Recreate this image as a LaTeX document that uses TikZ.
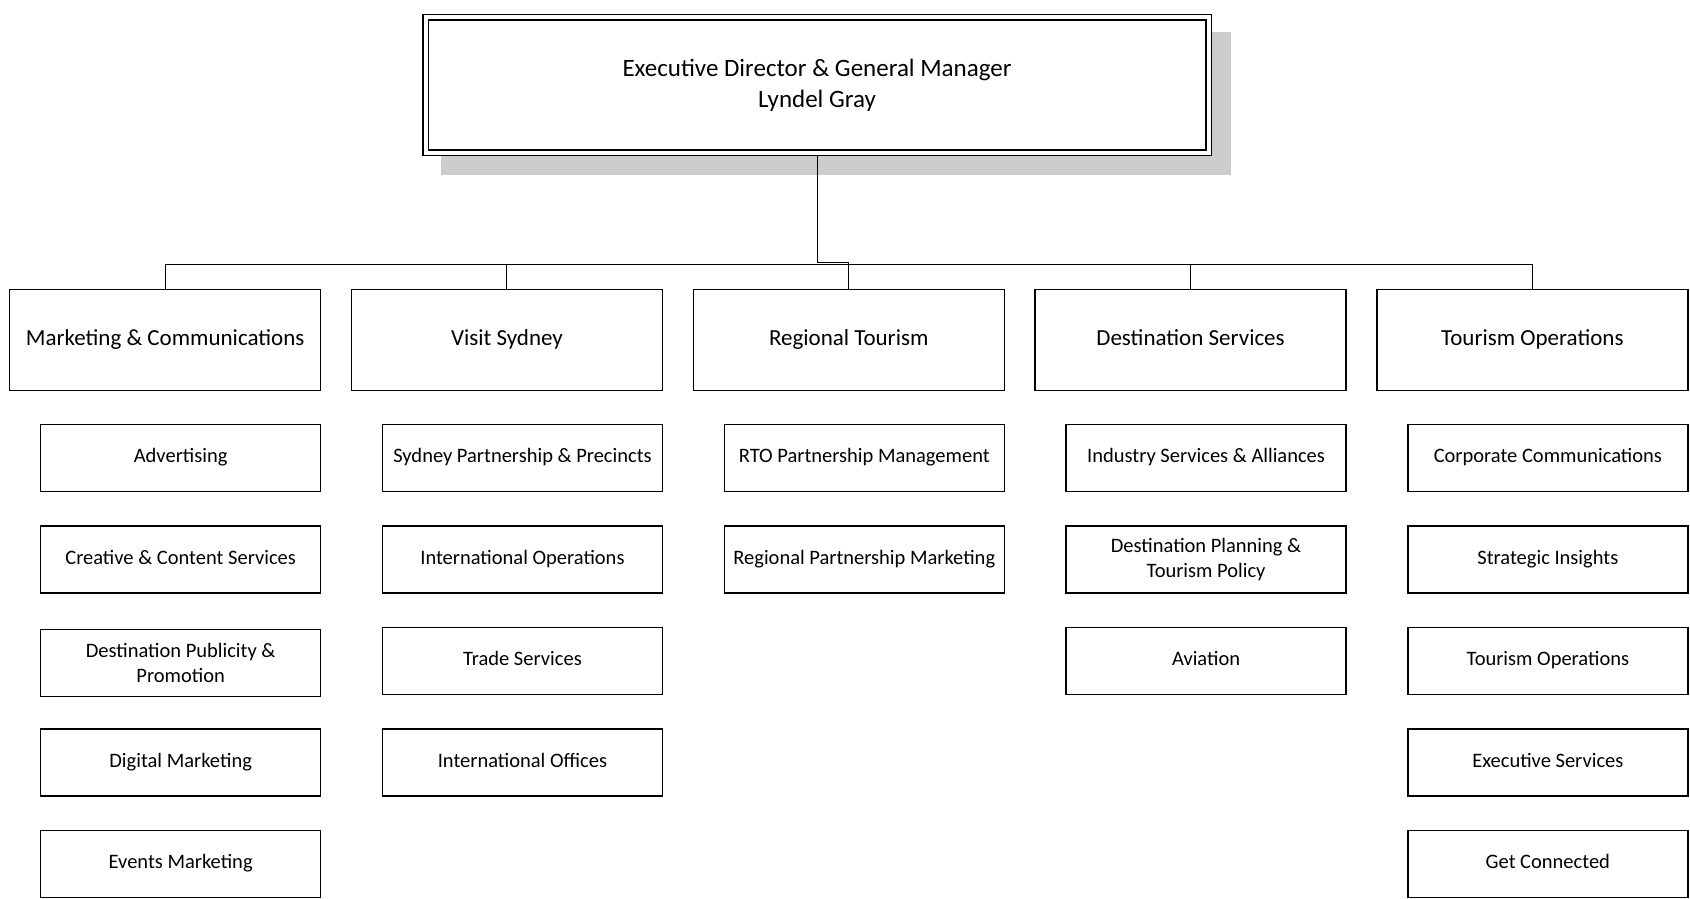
\documentclass[tikz,border=0pt]{standalone}
\usepackage{fontspec}
\setmainfont{Carlito}
\begin{document}
\begin{tikzpicture}[x=1pt,y=-1pt,
  topbox/.style={draw, fill=white, line width=1.2pt, double=white, double distance=4pt,
    minimum width=783pt, minimum height=135pt, inner sep=0pt, outer sep=3.2pt, align=center,
    font=\fontsize{25}{31}\selectfont},
  headbox/.style={draw, fill=white, line width=1.3pt, anchor=north west,
    minimum width=311pt, minimum height=101pt, inner sep=0pt, align=center,
    text height=2.35ex, text depth=0.25ex,
    font=\fontsize{23}{26}\selectfont},
  subbox/.style={draw, fill=white, line width=1.3pt, anchor=north west,
    minimum width=280pt, minimum height=67pt, inner sep=0pt, align=center,
    font=\fontsize{20.5}{25}\selectfont},
  onel/.style={text height=2.2ex, text depth=0.25ex},
  link/.style={draw, line width=1pt}
]
\useasboundingbox (0,0) rectangle (1690,899);
% shadow
\fill[black!20] (441,32) rectangle (1231,175);
\node[topbox] (top) at (817,85) {Executive Director \& General Manager\\Lyndel Gray};

\coordinate (bus) at (0,264);
\coordinate (jog) at (0,262);

\node[headbox] (mc) at (9,289) {Marketing \& Communications};
\node[headbox] (vs) at (350.8,289) {Visit Sydney};
\node[headbox] (rt) at (692.6,289) {Regional Tourism};
\node[headbox] (ds) at (1034.4,289) {Destination Services};
\node[headbox] (to) at (1376.2,289) {Tourism Operations};

% Marketing & Communications
\node[subbox,onel] (mc1) at (40,424) {Advertising};
\node[subbox,onel] (mc2) at (40,525.4) {Creative \& Content Services};
\node[subbox] (mc3) at (40,628.8) {Destination Publicity \&\\Promotion};
\node[subbox,onel] (mc4) at (40,728.2) {Digital Marketing};
\node[subbox,onel] (mc5) at (40,829.6) {Events Marketing};
% Visit Sydney
\node[subbox,onel] (vs1) at (381.8,424) {Sydney Partnership \& Precincts};
\node[subbox,onel] (vs2) at (381.8,525.4) {International Operations};
\node[subbox,onel] (vs3) at (381.8,626.8) {Trade Services};
\node[subbox,onel] (vs4) at (381.8,728.2) {International Offices};
% Regional Tourism
\node[subbox,onel] (rt1) at (723.6,424) {RTO Partnership Management};
\node[subbox,onel] (rt2) at (723.6,525.4) {Regional Partnership Marketing};
% Destination Services
\node[subbox,onel] (ds1) at (1065.4,424) {Industry Services \& Alliances};
\node[subbox] (ds2) at (1065.4,525.4) {Destination Planning \&\\Tourism Policy};
\node[subbox,onel] (ds3) at (1065.4,626.8) {Aviation};
% Tourism Operations
\node[subbox,onel] (to1) at (1407.2,424) {Corporate Communications};
\node[subbox,onel] (to2) at (1407.2,525.4) {Strategic Insights};
\node[subbox,onel] (to3) at (1407.2,626.8) {Tourism Operations};
\node[subbox,onel] (to4) at (1407.2,728.2) {Executive Services};
\node[subbox,onel] (to5) at (1407.2,829.6) {Get Connected};

% connectors
\draw[link] (top.south) -- (top.south |- jog) -- (rt.north |- jog) -- (rt.north);
\draw[link] (mc.north) -- (mc.north |- bus) -- (to.north |- bus) -- (to.north);
\draw[link] (vs.north) -- (vs.north |- bus);
\draw[link] (ds.north) -- (ds.north |- bus);
\end{tikzpicture}
\end{document}
